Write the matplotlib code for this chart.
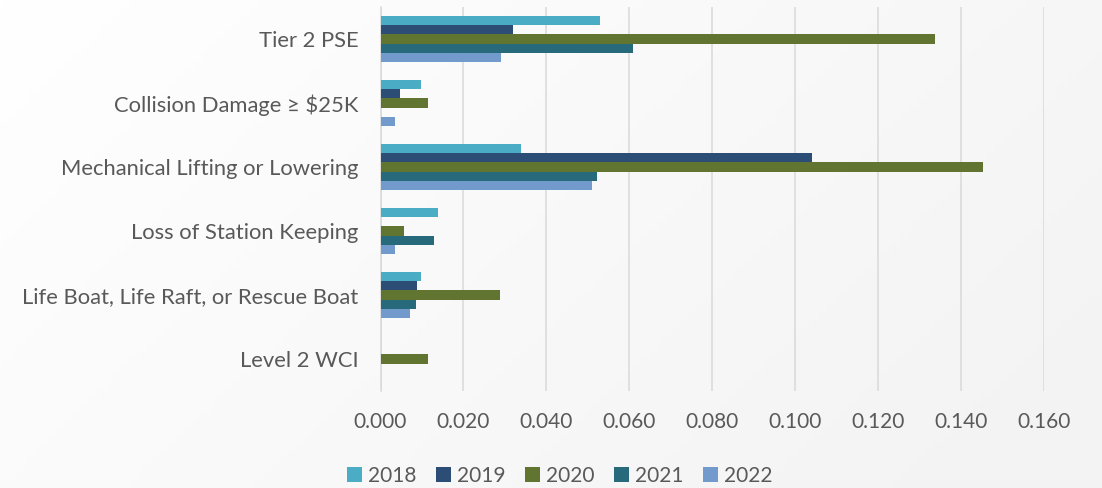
import numpy as np
import matplotlib
matplotlib.use('Agg')
import matplotlib.pyplot as plt

plt.rcParams['font.family'] = ['Lato', 'DejaVu Sans']

categories = ['Tier 2 PSE', 'Collision Damage \u2265 $25K', 'Mechanical Lifting or Lowering',
              'Loss of Station Keeping', 'Life Boat, Life Raft, or Rescue Boat', 'Level 2 WCI']
years = ['2018', '2019', '2020', '2021', '2022']

# one list per year, in category order (top to bottom)
v2018 = [0.053, 0.0098, 0.0339, 0.0139, 0.0098, 0.0]
v2019 = [0.032, 0.0048, 0.1041, 0.0, 0.0088, 0.0]
v2020 = [0.1336, 0.0114, 0.1453, 0.0056, 0.0289, 0.0114]
v2021 = [0.061, 0.0, 0.0522, 0.0128, 0.0085, 0.0]
v2022 = [0.0291, 0.0034, 0.0509, 0.0034, 0.0071, 0.0]
series = [v2018, v2019, v2020, v2021, v2022]

bar_colors = ['#4BACC6', '#2C4D75', '#627530', '#276A7C', '#739ACD']
text_color = '#595959'
grid_color = '#d9d9d9'

fig = plt.figure(figsize=(11.02, 4.88), dpi=100)

# faint background gradient, white on the left to light grey on the right
bg = fig.add_axes([0, 0, 1, 1], zorder=-10)
gx = np.linspace(0, 1, 256)
gy = np.linspace(0, 1, 64)
GX, GY = np.meshgrid(gx, gy)
shade = 1.0 - 0.045 * np.clip(0.75 * GX + 0.35 * GY, 0, 1)
bg.imshow(np.dstack([shade, shade, shade]), aspect='auto', extent=[0, 1, 0, 1], origin='upper')
bg.axis('off')

ax = fig.add_axes([0.3453, 0.1988, 0.6021, 0.7869])
ax.set_facecolor('none')

y = np.arange(len(categories))
h = 0.146
for j, (vals, col, yr) in enumerate(zip(series, bar_colors, years)):
    ax.barh(y + (j - 2) * h, vals, height=h, color=col, label=yr, zorder=3)

ax.set_xlim(0, 0.16)
ax.set_ylim(len(categories) - 0.5, -0.5)
ax.set_xticks(np.arange(0, 0.161, 0.02))
ax.xaxis.set_major_formatter(matplotlib.ticker.FormatStrFormatter('%.3f'))
ax.set_yticks(y)
ax.set_yticklabels(categories)

ax.grid(axis='x', color=grid_color, linewidth=1.1, zorder=0)
for s in ['top', 'right', 'bottom']:
    ax.spines[s].set_visible(False)
ax.spines['left'].set_color(grid_color)
ax.spines['left'].set_linewidth(1.1)
ax.tick_params(axis='both', length=0, colors=text_color)
ax.tick_params(axis='x', pad=15, labelsize=15)
ax.tick_params(axis='y', pad=16, labelsize=15.8)

leg = fig.legend(loc='center', bbox_to_anchor=(0.508, 0.025), ncol=5, frameon=False,
                 fontsize=15, handlelength=0.7, handleheight=0.7, handletextpad=0.3,
                 columnspacing=0.95)
for t in leg.get_texts():
    t.set_color(text_color)

fig.savefig('out.png', dpi=100)
